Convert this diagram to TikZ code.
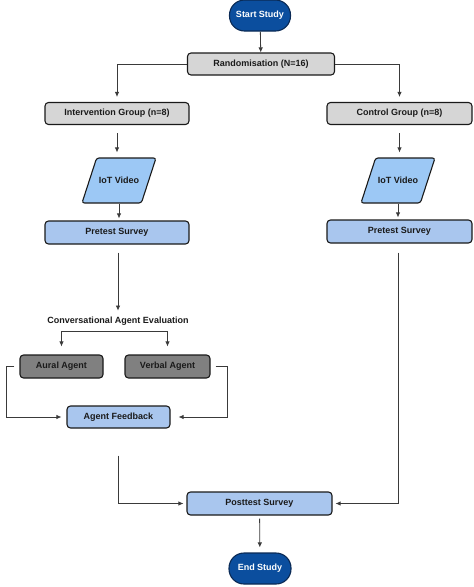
\documentclass[tikz,border=0pt]{standalone}
\usepackage{fontspec}
\setmainfont{Liberation Sans}
\usetikzlibrary{arrows.meta,shapes.geometric}
\definecolor{termfill}{HTML}{0B4E9E}
\definecolor{termdraw}{HTML}{0A2A55}
\definecolor{grayfill}{HTML}{D6D6D6}
\definecolor{darkfill}{HTML}{808080}
\definecolor{bluefill}{HTML}{A9C6EE}
\definecolor{parafill}{HTML}{9CC8F5}
\definecolor{edge}{HTML}{1A1A1A}
\definecolor{linec}{HTML}{3A3A3A}
\tikzset{
  base/.style={draw=edge, line width=1.1pt, rounded corners=3.5pt, font=\fontsize{9}{10}\selectfont\bfseries, inner sep=0pt, align=center},
  term/.style={base, fill=termfill, draw=termdraw, text=white, rounded corners=15pt, minimum width=61pt, minimum height=31pt},
  graybox/.style={base, fill=grayfill, text=edge, minimum width=144pt, minimum height=22pt},
  bluebox/.style={base, fill=bluefill, text=edge, minimum width=144pt, minimum height=23pt},
  agentbox/.style={base, fill=darkfill, text=edge, minimum width=84pt, minimum height=23pt},
  fbbox/.style={base, fill=bluefill, text=edge, minimum width=103pt, minimum height=22pt},
  postbox/.style={base, fill=bluefill, text=edge, minimum width=145pt, minimum height=23pt},
  para/.style={base, trapezium, trapezium left angle=72, trapezium right angle=108, trapezium stretches body=true, rounded corners=2.5pt, fill=parafill, text=edge, text height=7pt, text depth=2pt, inner ysep=18pt, inner xsep=2pt, minimum width=74pt},
  lbl/.style={font=\fontsize{9}{10}\selectfont\bfseries, text=edge, inner sep=1pt},
  arr/.style={draw=linec, line width=0.8pt, -{Latex[length=5pt,width=4.5pt]}},
  ln/.style={draw=linec, line width=0.8pt}
}
\begin{document}
\begin{tikzpicture}[x=1pt,y=-1pt]
\useasboundingbox (0,0) rectangle (474,587);
\node[term] (start) at (260,15.5) {Start Study};
\node[graybox, minimum width=147pt] (rand) at (261,64) {Randomisation (N=16)};
\node[graybox] (intv) at (117,113.5) {Intervention Group (n=8)};
\node[graybox, minimum width=145pt] (ctrl) at (399.5,113.5) {Control Group (n=8)};
\node[para] (iot1) at (119,180.5) {IoT Video};
\node[para] (iot2) at (398,180.5) {IoT Video};
\node[bluebox] (pre1) at (117,232.5) {Pretest Survey};
\node[bluebox, minimum width=145pt] (pre2) at (399.5,231.5) {Pretest Survey};
\node[lbl] (cae) at (118,321) {Conversational Agent Evaluation};
\coordinate (split) at (118,331);
\node[agentbox, minimum width=83pt] (aural) at (61.5,366.5) {Aural Agent};
\node[agentbox, minimum width=85pt] (verbal) at (167.5,366.5) {Verbal Agent};
\node[fbbox] (fb) at (118.5,417) {Agent Feedback};
\node[postbox] (post) at (259.5,503.5) {Posttest Survey};
\node[term, minimum width=62pt] (end) at (260,568.5) {End Study};

\draw[arr] (start) -- (rand);
\draw[arr, shorten >=5pt] (rand.west) -| (intv.north);
\draw[arr, shorten >=5pt] (rand.east) -| (ctrl.north);
\draw[arr, shorten <=8pt, shorten >=5pt] (intv.south) -- (intv.south |- iot1.north);
\draw[arr, shorten <=8pt, shorten >=5pt] (ctrl.south) -- (ctrl.south |- iot2.north);
\draw[arr, shorten >=2pt] (iot1.south) -- (iot1.south |- pre1.north);
\draw[arr, shorten >=2pt] (iot2.south) -- (iot2.south |- pre2.north);
\draw[arr, shorten <=8pt, shorten >=5pt] (pre1.south -| cae.north) -- (cae.north);
\draw[arr, shorten >=8pt] (split) -| (aural.north);
\draw[arr, shorten >=8pt] (split) -| (verbal.north);
\draw[arr, shorten <=5pt, shorten >=5pt] (aural.west) -- ++(-13,0) |- (fb.west);
\draw[arr, shorten <=5pt, shorten >=8pt] (verbal.east) -- ++(17,0) |- (fb.east);
\draw[arr, shorten <=27pt, shorten >=3pt] (fb.south) |- (post.west);
\draw[arr, shorten <=9pt, shorten >=3pt] (pre2.south -| 398,0) |- (post.east);
\draw[arr, shorten <=3pt, shorten >=5pt] (post) -- (end);
\end{tikzpicture}
\end{document}
